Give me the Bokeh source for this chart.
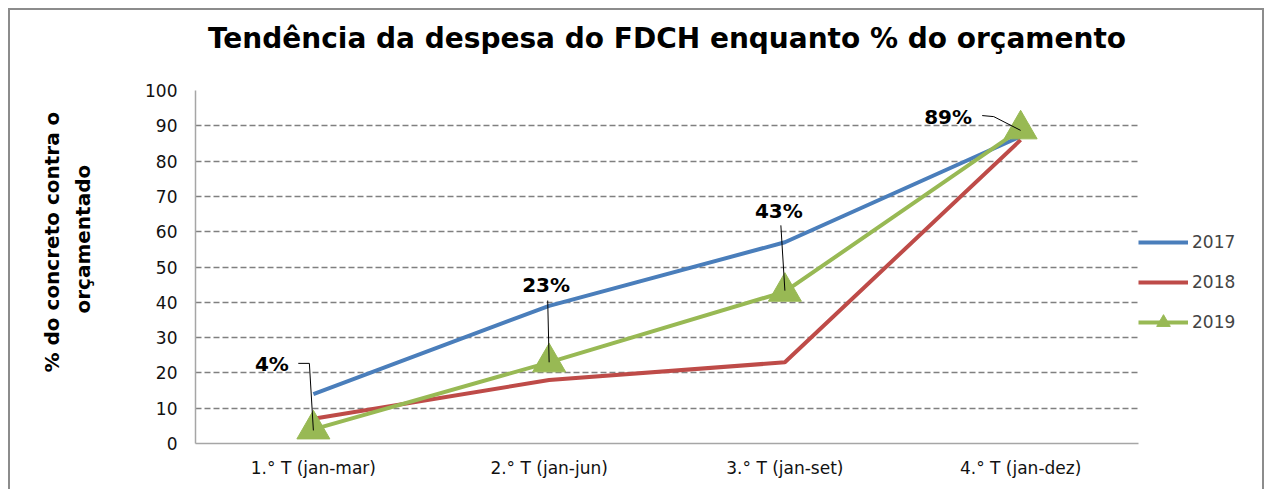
from bokeh.plotting import figure
from bokeh.models import Legend, LegendItem, Title, FactorRange, Range1d, FixedTicker
from bokeh.embed import file_html
from bokeh.resources import INLINE
from bokeh.core.properties import value

# ---- data ----
categories = ["1.° T (jan-mar)", "2.° T (jan-jun)", "3.° T (jan-set)", "4.° T (jan-dez)"]
series_2017 = [14, 39, 57, 87]
series_2018 = [7, 18, 23, 86]
series_2019 = [4, 23, 43, 89]
labels_2019 = ["4%", "23%", "43%", "89%"]
y_ticks = [0, 10, 20, 30, 40, 50, 60, 70, 80, 90, 100]
series_names = ["2017", "2018", "2019"]
title_text = "Tendência da despesa do FDCH enquanto % do orçamento"
ylabel_line1 = "%  do concreto contra o"
ylabel_line2 = "orçamentado"

# ---- style ----
FONT = "DejaVu Sans"
C17, C18, C19 = "#4A7EBB", "#BE4B48", "#98B954"
BORDER = "#8c8c8c"

p = figure(x_range=FactorRange(*categories), y_range=Range1d(0, 100),
           frame_width=943, frame_height=353, output_backend="svg", toolbar_location=None,
           min_border_left=195, min_border_right=128, min_border_top=90, min_border_bottom=46)
p.border_fill_alpha = 0
p.background_fill_color = "white"
p.outline_line_color = None
p.styles = {"background": (
    f"linear-gradient({BORDER},{BORDER}) 8px 8px / 2px calc(100% - 8px) no-repeat, "
    f"linear-gradient({BORDER},{BORDER}) 8px 8px / 1256px 2px no-repeat, "
    f"linear-gradient({BORDER},{BORDER}) 1262px 8px / 2px calc(100% - 8px) no-repeat, white")}

p.xgrid.visible = False
p.ygrid.grid_line_color = "#808080"
p.ygrid.grid_line_dash = "6 3"
p.ygrid.grid_line_width = 1.5

p.yaxis.ticker = FixedTicker(ticks=y_ticks)
for ax in (p.xaxis[0], p.yaxis[0]):
    ax.axis_line_color = "#a6a6a6"
    ax.axis_line_width = 1.5
    ax.major_tick_line_color = None
    ax.major_tick_out = 0
    ax.major_tick_in = 0
    ax.minor_tick_line_color = None
    ax.minor_tick_out = 0
    ax.major_label_text_font = FONT
    ax.major_label_text_font_size = "17px"
    ax.major_label_text_color = "#111111"
p.yaxis.major_label_standoff = 18
p.xaxis.major_label_standoff = 14

r17 = p.line(categories, series_2017, line_color=C17, line_width=4)
r18 = p.line(categories, series_2018, line_color=C18, line_width=4)
r19 = p.line(categories, series_2019, line_color=C19, line_width=4)
m19 = p.scatter(categories, series_2019, marker="triangle", size=33,
                fill_color=C19, line_color=C19)

# leader lines (offsets relative to each 2019 point: category units, data units)
leaders = [
    [(-0.064, 18.7), (-0.017, 18.7), (0.0, -0.3)],
    [(-0.006, 17.5), (0.0, 0.0)],
    [(-0.017, 18.8), (0.0, 0.3)],
    [(-0.163, 3.9), (-0.114, 3.6), (0.0, -0.3)],
]
for cat, val, pts in zip(categories, series_2019, leaders):
    p.line([(cat, dx) for dx, dy in pts], [val + dy for dx, dy in pts],
           line_color="black", line_width=1)

label_dx = [-41.5, -3, -6, -72.5]
label_dy = [-65, -77, -81, -12]
p.text(x=categories, y=series_2019, text=labels_2019, x_offset=label_dx, y_offset=label_dy,
       text_font=value(FONT), text_font_style="bold", text_font_size="20px",
       text_align="center", text_baseline="middle", text_color="black")

legend = Legend(items=[LegendItem(label=series_names[0], renderers=[r17]),
                       LegendItem(label=series_names[1], renderers=[r18]),
                       LegendItem(label=series_names[2], renderers=[r19, m19])],
                location="center_left")
legend.title = " "
legend.title_text_font_size = "20px"
legend.title_standoff = 7
legend.border_line_color = None
legend.background_fill_alpha = 0
legend.padding = 0
legend.margin = 0
legend.spacing = 6
legend.glyph_width = 50
legend.glyph_height = 34
legend.label_height = 34
legend.label_standoff = 4
legend.label_text_font = FONT
legend.label_text_font_size = "17px"
legend.label_text_baseline = "middle"
p.add_layout(legend, "right")

# main title (spacer keeps it away from the frame)
p.add_layout(Title(text=" ", text_font_size="1px", standoff=27), "above")
p.add_layout(Title(text=title_text, text_font=FONT, text_font_style="bold",
                   text_font_size="28px", align="center", vertical_align="middle",
                   standoff=10, text_color="black"), "above")

# y-axis title in two lines
p.add_layout(Title(text=" ", text_font_size="1px", standoff=40), "left")
p.add_layout(Title(text=ylabel_line2, text_font=FONT, text_font_style="bold",
                   text_font_size="20px", align="left", vertical_align="middle",
                   offset=130, standoff=8, text_color="black"), "left")
p.add_layout(Title(text=ylabel_line1, text_font=FONT, text_font_style="bold",
                   text_font_size="20px", align="left", vertical_align="middle",
                   offset=71, standoff=2, text_color="black"), "left")

open("out.html", "w").write(file_html(p, INLINE))
